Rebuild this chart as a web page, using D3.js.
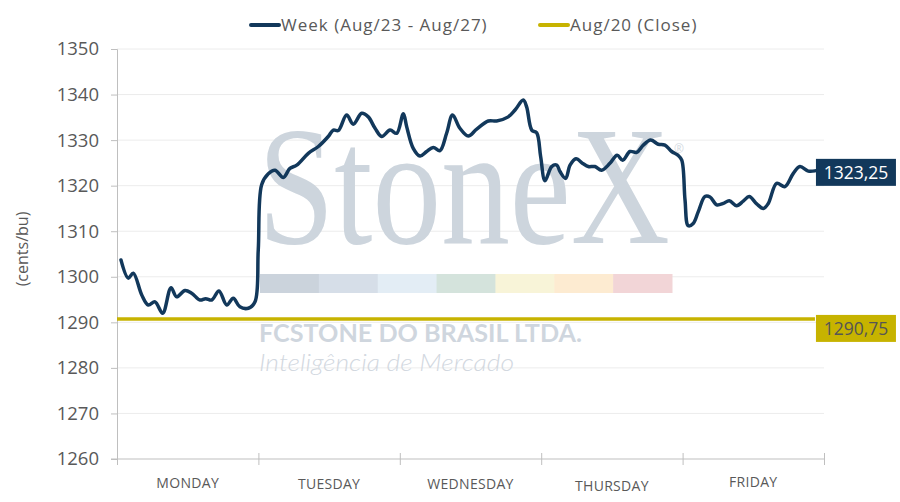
<!DOCTYPE html>
<html>
<head>
<meta charset="utf-8">
<script src="https://cdn.jsdelivr.net/npm/d3@7"></script>
<style>
  body { margin: 0; background: #fff; }
  svg { display: block; }
</style>
</head>
<body>
<div class="chart"></div>
<script>
// day names on the x axis, one band per trading session
const days = ['MONDAY', 'TUESDAY', 'WEDNESDAY', 'THURSDAY', 'FRIDAY'];
// small vertical offsets of the day labels as they sit in the original
const dayLabelShift = [0, 1, 1, 3, -1];

const yTicks = [1260, 1270, 1280, 1290, 1300, 1310, 1320, 1330, 1340, 1350];

// intraday position (in days from monday open) and price
const weekX = [
  0.028, 0.080, 0.115, 0.175, 0.221, 0.269, 0.323, 0.382, 0.422, 0.481,
  0.528, 0.587, 0.627, 0.670, 0.721, 0.776, 0.822, 0.869, 0.929, 0.976,
  0.999, 1.023, 1.070, 1.117, 1.176, 1.223, 1.271, 1.353, 1.424, 1.494,
  1.530, 1.565, 1.624, 1.671, 1.731, 1.777, 1.825, 1.872, 1.931, 1.978,
  2.025, 2.049, 2.095, 2.143, 2.190, 2.237, 2.284, 2.331, 2.373, 2.425,
  2.484, 2.544, 2.626, 2.685, 2.767, 2.815, 2.873, 2.897, 2.933, 2.968,
  2.996, 3.027, 3.074, 3.110, 3.133, 3.173, 3.204, 3.246, 3.297, 3.333,
  3.380, 3.427, 3.486, 3.537, 3.576, 3.628, 3.675, 3.722, 3.774, 3.828,
  3.875, 3.923, 3.967, 3.994, 4.017, 4.040, 4.075, 4.111, 4.158, 4.194,
  4.241, 4.288, 4.330, 4.382, 4.429, 4.471, 4.524, 4.571, 4.606, 4.665,
  4.724, 4.783, 4.830, 4.889, 4.936
];
const weekValue = [
  1303.7, 1299.7, 1300.8, 1296.0, 1293.8, 1294.5, 1292.0, 1297.6, 1295.6, 1297.0,
  1296.4, 1294.9, 1295.2, 1294.9, 1296.9, 1293.8, 1295.3, 1293.4, 1293.1, 1294.5,
  1305.9, 1320.2, 1322.6, 1323.4, 1321.8, 1323.8, 1324.5, 1327.1, 1328.6, 1330.8,
  1332.2, 1332.1, 1335.5, 1333.5, 1335.9, 1335.1, 1332.6, 1330.8, 1332.2, 1331.5,
  1335.8, 1332.9, 1328.2, 1326.5, 1327.5, 1328.4, 1327.7, 1331.5, 1335.5, 1332.6,
  1330.9, 1332.4, 1334.2, 1334.2, 1335.1, 1336.6, 1338.8, 1337.3, 1332.2, 1331.6,
  1326.4, 1321.1, 1324.2, 1324.5, 1323.1, 1321.6, 1324.5, 1325.9, 1324.8, 1324.2,
  1324.2, 1323.4, 1324.9, 1326.7, 1325.6, 1327.5, 1327.3, 1328.9, 1330.0, 1329.1,
  1328.9, 1327.5, 1326.7, 1325.6, 1316.9, 1311.2, 1311.7, 1314.3, 1317.6, 1317.5,
  1315.8, 1316.1, 1316.7, 1315.6, 1316.6, 1317.6, 1316.0, 1315.0, 1316.1, 1320.5,
  1319.8, 1322.7, 1324.2, 1323.2, 1323.25
];

const closeValue = 1290.75;
const lastValue = 1323.25;

const seriesNames = ['Week (Aug/23 - Aug/27)', 'Aug/20 (Close)'];

// watermark pieces
const stripeColors = ['#cbd3dc', '#d6dee8', '#e3edf5', '#d4e3dc', '#f8f4d8', '#fdebd1', '#f2d5d7'];

const fmt = v => v.toFixed(2).replace('.', ',');

function myChart() {
  const width = 900;
  const height = 502;
  const margin = {top: 49, left: 117, right: 76, bottom: 43};
  const navy = '#12385b';
  const gold = '#c7b300';
  const textGray = '#595959';
  const font = '"Open Sans", "Noto Sans", sans-serif';

  const x = d3.scaleLinear().domain([0, days.length])
    .range([margin.left, width - margin.right]);
  const y = d3.scaleLinear().domain([1260, 1350])
    .range([height - margin.bottom, margin.top]);

  const svg = d3.select('.chart').append('svg')
    .attr('width', width).attr('height', height)
    .style('font-family', font);

  // gridlines
  svg.append('g').selectAll('line').data(yTicks.slice(1)).enter()
    .append('line')
    .attr('x1', x(0)).attr('x2', x(days.length))
    .attr('y1', d => y(d)).attr('y2', d => y(d))
    .attr('stroke', '#ececec').attr('stroke-width', 1);

  // watermark
  const wm = svg.append('g').attr('class', 'watermark');
  const logo = wm.append('text')
    .attr('font-family', '"Liberation Serif", "DejaVu Serif", serif')
    .attr('font-size', 170)
    .attr('fill', '#cdd5dd')
    .text('StoneX');
  // squeeze the wordmark horizontally to the width it has in the original
  const logoW = logo.node().getComputedTextLength();
  logo.attr('transform', `translate(258,243) scale(${412 / logoW},1)`);
  wm.append('text')
    .attr('x', 674).attr('y', 153)
    .attr('font-size', 12).attr('fill', '#d4dae1')
    .text('®');
  const stripeW = (672 - 260) / stripeColors.length;
  wm.selectAll('rect').data(stripeColors).enter()
    .append('rect')
    .attr('x', (d, i) => 260 + i * stripeW)
    .attr('y', 274).attr('width', stripeW + 0.5).attr('height', 19)
    .attr('fill', d => d);
  wm.append('text')
    .attr('x', 259).attr('y', 342)
    .attr('font-family', 'Lato, sans-serif')
    .attr('font-size', 24).attr('font-weight', 700)
    .attr('textLength', 323).attr('lengthAdjust', 'spacingAndGlyphs')
    .attr('fill', '#cfd6de')
    .text('FCSTONE DO BRASIL LTDA.');
  wm.append('text')
    .attr('x', 259).attr('y', 371)
    .attr('font-family', 'Lato, sans-serif')
    .attr('font-size', 23).attr('font-style', 'italic').attr('font-weight', 300)
    .attr('textLength', 255).attr('lengthAdjust', 'spacingAndGlyphs')
    .attr('fill', '#d2d8df')
    .text('Inteligência de Mercado');

  // y axis
  const yAxis = svg.append('g')
    .attr('transform', `translate(${margin.left},0)`)
    .call(d3.axisLeft(y).tickValues(yTicks).tickSize(6).tickPadding(12).tickFormat(d3.format('d')));
  yAxis.select('.domain').attr('stroke', '#bfbfbf');
  yAxis.selectAll('.tick line').attr('stroke', '#bfbfbf');
  yAxis.selectAll('.tick text')
    .attr('fill', textGray).attr('font-size', 18.5).attr('font-family', font);

  // x axis
  const xAxis = svg.append('g')
    .attr('transform', `translate(0,${y(1260)})`)
    .call(d3.axisBottom(x).tickValues(d3.range(days.length + 1)).tickSize(6).tickFormat(''));
  xAxis.select('.domain').attr('stroke', '#bfbfbf')
    .attr('d', `M${margin.left - 6},0H${x(days.length)}`);
  xAxis.selectAll('.tick line').attr('stroke', '#bfbfbf').attr('y1', -6).attr('y2', 6);

  svg.append('g').selectAll('text').data(days).enter()
    .append('text')
    .attr('x', (d, i) => x(i + 0.5))
    .attr('y', (d, i) => 488 + dayLabelShift[i])
    .attr('text-anchor', 'middle')
    .attr('font-size', 14)
    .attr('letter-spacing', 0.3)
    .attr('fill', textGray)
    .text(d => d);

  // y title
  svg.append('text')
    .attr('transform', `translate(28,${249}) rotate(-90)`)
    .attr('text-anchor', 'middle')
    .attr('font-size', 16).attr('fill', textGray)
    .text('(cents/bu)');

  const lastX = weekX[weekX.length - 1];

  // previous close
  svg.append('line')
    .attr('x1', x(0)).attr('x2', x(lastX))
    .attr('y1', y(closeValue)).attr('y2', y(closeValue))
    .attr('stroke', gold).attr('stroke-width', 3.5);

  // week line
  const points = weekX.map((d, i) => [d, weekValue[i]]);
  const line = d3.line()
    .x(d => x(d[0])).y(d => y(d[1]))
    .curve(d3.curveCatmullRom.alpha(0.5));
  svg.append('path')
    .datum(points)
    .attr('d', line)
    .attr('fill', 'none')
    .attr('stroke', navy)
    .attr('stroke-width', 3.5)
    .attr('stroke-linejoin', 'round')
    .attr('stroke-linecap', 'round');

  // end labels
  const labels = [
    {value: lastValue, top: y(lastValue) - 12, fill: navy, color: '#ffffff'},
    {value: closeValue, top: y(closeValue) - 4, fill: gold, color: '#555555'}
  ];
  const lab = svg.append('g').selectAll('g').data(labels).enter().append('g');
  lab.append('rect')
    .attr('x', x(lastX) + 1).attr('y', d => d.top)
    .attr('width', 80).attr('height', 27)
    .attr('fill', d => d.fill);
  lab.append('text')
    .attr('x', x(lastX) + 41).attr('y', d => d.top + 20)
    .attr('text-anchor', 'middle')
    .attr('font-size', 17.5)
    .attr('fill', d => d.color)
    .text(d => fmt(d.value));

  // legend
  const legend = [
    {name: seriesNames[0], color: navy, x: 251},
    {name: seriesNames[1], color: gold, x: 540}
  ];
  const lg = svg.append('g').selectAll('g').data(legend).enter().append('g');
  lg.append('line')
    .attr('x1', d => d.x).attr('x2', d => d.x + 28)
    .attr('y1', 25).attr('y2', 25)
    .attr('stroke', d => d.color).attr('stroke-width', 4)
    .attr('stroke-linecap', 'round');
  lg.append('text')
    .attr('x', d => d.x + 30).attr('y', 31)
    .attr('font-size', 17).attr('letter-spacing', 1)
    .attr('fill', textGray)
    .text(d => d.name);
}

document.addEventListener('DOMContentLoaded', myChart);
</script>
</body>
</html>
